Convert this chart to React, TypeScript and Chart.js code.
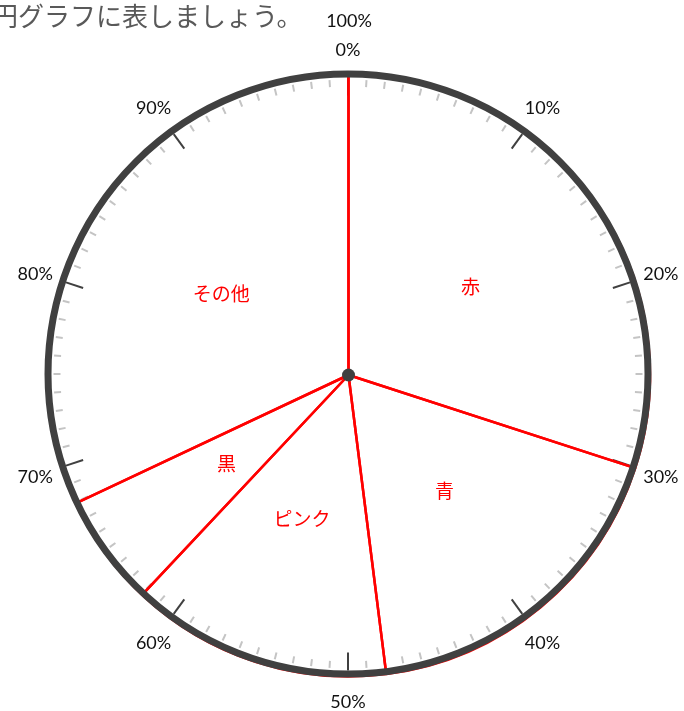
import React, { useEffect, useRef } from "react";
import { Chart, registerables } from "chart.js";

Chart.register(...registerables);

const categories = ["赤", "青", "ピンク", "黒", "その他"];
const values = [30, 18, 14, 6, 32];
const tickLabels = ["0%", "10%", "20%", "30%", "40%", "50%", "60%", "70%", "80%", "90%"];
const topLabel = "100%";
const titleText = "円グラフに表しましょう。";

const DARK = "#404040";

const gaugePlugin = {
  id: "gauge",
  beforeDatasetsDraw(chart: any) {
    const arc = chart.getDatasetMeta(0).data[0];
    if (!arc) return;
    const ctx = chart.ctx;
    const cx = arc.x - 0.5;
    const cy = arc.y - 1;
    const r = 300;
    const inner = r - 3.5;
    ctx.save();
    ctx.lineCap = "butt";
    for (let i = 0; i < 100; i++) {
      const t = (i * 3.6 * Math.PI) / 180;
      const s = Math.sin(t);
      const c = -Math.cos(t);
      const major = i % 10 === 0;
      const r1 = major ? inner : inner - 2;
      const r2 = major ? inner - 18 : inner - 9;
      ctx.beginPath();
      ctx.moveTo(cx + s * r1, cy + c * r1);
      ctx.lineTo(cx + s * r2, cy + c * r2);
      ctx.strokeStyle = major ? DARK : "#c4c4c4";
      ctx.lineWidth = 2;
      ctx.stroke();
    }
    ctx.restore();
  },
  afterDatasetsDraw(chart: any) {
    const meta = chart.getDatasetMeta(0);
    const arc = meta.data[0];
    if (!arc) return;
    const ctx = chart.ctx;
    const cx = arc.x - 0.5;
    const cy = arc.y - 1;
    const r = 300;
    ctx.save();
    // outer dark ring
    ctx.beginPath();
    ctx.arc(cx, cy, r, 0, Math.PI * 2);
    ctx.strokeStyle = DARK;
    ctx.lineWidth = 7;
    ctx.stroke();
    // center dot
    ctx.beginPath();
    ctx.arc(arc.x, arc.y, 6.5, 0, Math.PI * 2);
    ctx.fillStyle = DARK;
    ctx.fill();
    // percent labels
    ctx.fillStyle = "#111111";
    ctx.font = "18px Lato, 'Liberation Sans', sans-serif";
    ctx.textAlign = "center";
    ctx.textBaseline = "middle";
    tickLabels.forEach((lab, i) => {
      const t = (i * 36 * Math.PI) / 180;
      const D = 326 + 5 * Math.abs(Math.sin(2 * t));
      ctx.fillText(lab, cx + Math.sin(t) * D, cy - Math.cos(t) * D + 2);
    });
    ctx.fillText(topLabel, cx + 1, 21);
    // slice labels
    ctx.fillStyle = "#ff0000";
    ctx.font = "19px 'Noto Sans CJK JP', sans-serif";
    meta.data.forEach((el: any, i: number) => {
      const mid = (el.startAngle + el.endAngle) / 2;
      const rr = el.outerRadius * 0.5;
      ctx.fillText(categories[i], el.x + Math.cos(mid) * rr, el.y + Math.sin(mid) * rr);
    });
    // title (clipped at the left edge as in the original)
    ctx.fillStyle = "#595959";
    ctx.font = "26px 'Noto Sans CJK JP', sans-serif";
    ctx.textAlign = "left";
    ctx.fillText(titleText, -8, 16);
    ctx.restore();
  },
};

export default function App() {
  const ref = useRef<HTMLCanvasElement | null>(null);
  useEffect(() => {
    if (!ref.current) return;
    const chart = new Chart(ref.current, {
      type: "pie",
      data: {
        labels: categories,
        datasets: [
          {
            data: values,
            backgroundColor: "rgba(255,255,255,0)",
            borderColor: "#ff0000",
            borderWidth: 2.5,
            radius: 301.5,
          } as any,
        ],
      },
      options: {
        responsive: false,
        animation: false,
        devicePixelRatio: 1,
        layout: { padding: { left: 13, right: 0, top: 39, bottom: 0 } },
        plugins: {
          legend: { display: false },
          tooltip: { enabled: false },
          title: { display: false },
        },
      },
      plugins: [gaugePlugin],
    });
    return () => chart.destroy();
  }, []);
  return (
    <div style={{ position: "fixed", left: 0, top: 0, width: 684, height: 711, background: "#fff" }}>
      <canvas ref={ref} width={684} height={711} style={{ display: "block" }} />
    </div>
  );
}
